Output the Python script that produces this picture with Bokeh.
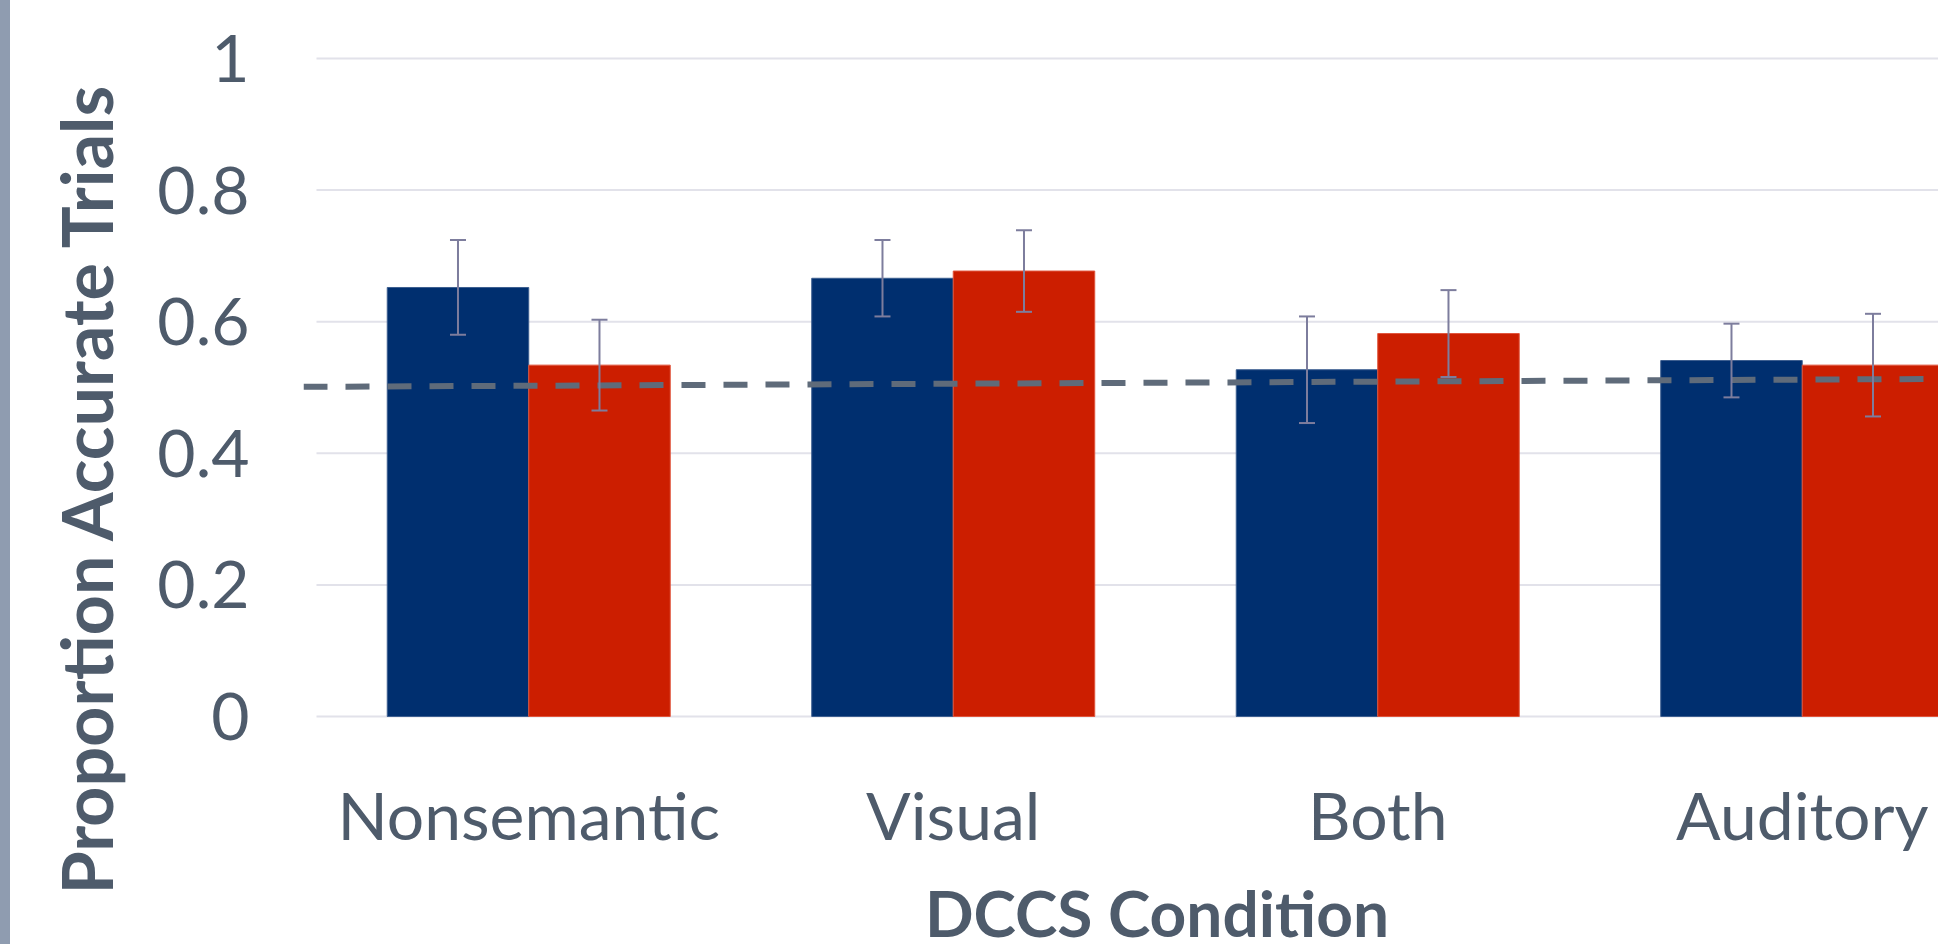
import numpy as np
from bokeh.plotting import figure
from bokeh.models import (Range1d, FixedTicker, Whisker, ColumnDataSource,
                          TeeHead, Div, Title)
from bokeh.core.properties import value
from bokeh.layouts import row
from bokeh.transform import dodge
from bokeh.embed import file_html
from bokeh.resources import INLINE

# ---- data -------------------------------------------------------------
conditions = ["Nonsemantic", "Visual", "Both", "Auditory"]
series1_mean = [0.652, 0.666, 0.527, 0.541]
series1_err = [0.072, 0.058, 0.081, 0.056]
series2_mean = [0.534, 0.677, 0.582, 0.534]
series2_err = [0.069, 0.062, 0.066, 0.078]
chance_level = [0.501, 0.513]          # dashed reference line (start, end)
y_ticks = [0, 0.2, 0.4, 0.6, 0.8, 1]
y_tick_labels = ["0", "0.2", "0.4", "0.6", "0.8", "1"]

# ---- styling ----------------------------------------------------------
TEXT = "#4e5b6b"
BLUE = "#002f6f"
RED = "#cc1e00"
ERR = "#7d7d9d"
GRID = "#e2e2ea"
DASH = "#5f6b7a"
FONT = "Lato"

W, H = 1928, 944
BAR_W = 1 / 3
x_start, x_end = -0.5306, 3.321
y_start, y_end = -0.3465, 1.08815     # lower part holds the category captions
CAT_LABEL_Y = -0.1495                 # anchor of category captions
XTITLE_Y = -0.2985                    # anchor of the x-axis title
XTITLE_X = 1.48

idx = np.arange(len(conditions))
src = ColumnDataSource(dict(
    x=idx,
    m1=series1_mean, lo1=np.array(series1_mean) - np.array(series1_err),
    hi1=np.array(series1_mean) + np.array(series1_err),
    m2=series2_mean, lo2=np.array(series2_mean) - np.array(series2_err),
    hi2=np.array(series2_mean) + np.array(series2_err),
))

p = figure(width=W, height=H,
           x_range=Range1d(x_start, x_end), y_range=Range1d(y_start, y_end),
           output_backend="svg", toolbar_location=None, x_axis_location=None,
           min_border_left=293, min_border_right=0,
           min_border_top=0, min_border_bottom=0)
p.title.visible = False
p.outline_line_color = None
p.xgrid.visible = False
p.ygrid.visible = False
p.background_fill_color = "white"
p.border_fill_color = "white"

# horizontal gridlines across the category area
p.segment(x0=-0.5, x1=x_end, y0=y_ticks, y1=y_ticks,
          line_color=GRID, line_width=2)

# bars
p.vbar(x=dodge("x", -BAR_W / 2), top="m1", width=BAR_W, bottom=0, source=src,
       fill_color=BLUE, line_color="#3d5f90", line_width=1)
p.vbar(x=dodge("x", BAR_W / 2), top="m2", width=BAR_W, bottom=0, source=src,
       fill_color=RED, line_color="#e0553c", line_width=1)

# dashed chance line
p.line(x=[x_start, x_end], y=chance_level, line_color=DASH, line_width=6,
       line_dash="24 18")

# error bars, drawn above the bars
for base, lo, hi in ((dodge("x", -BAR_W / 2), "lo1", "hi1"),
                     (dodge("x", BAR_W / 2), "lo2", "hi2")):
    w = Whisker(source=src, base=base, lower=lo, upper=hi, level="annotation",
                line_color=ERR, line_width=2,
                upper_head=TeeHead(size=16, line_color=ERR, line_width=2),
                lower_head=TeeHead(size=16, line_color=ERR, line_width=2))
    p.add_layout(w)

# category captions under each group
cat_src = ColumnDataSource(dict(x=idx, y=[CAT_LABEL_Y] * len(conditions),
                                text=conditions))
p.text(x="x", y="y", text="text", source=cat_src, text_align="center",
       text_baseline="alphabetic", text_font=value(FONT),
       text_font_size=value("66px"), text_color=TEXT)

# x-axis title
p.text(x=[XTITLE_X], y=[XTITLE_Y], text=["DCCS Condition"], text_align="center",
       text_baseline="alphabetic", text_font=value(FONT),
       text_font_style="bold", text_font_size=value("64px"), text_color=TEXT)

# y axis
yax = p.yaxis[0]
yax.ticker = FixedTicker(ticks=y_ticks)
yax.major_label_overrides = dict(zip(y_ticks, y_tick_labels))
yax.axis_line_color = None
yax.major_tick_line_color = None
yax.minor_tick_line_color = None
yax.major_tick_out = 0
yax.major_label_text_color = TEXT
yax.major_label_text_font = FONT
yax.major_label_text_font_size = "66px"
yax.major_label_standoff = 54

# y-axis title
p.add_layout(Title(text="Proportion Accurate Trials", align="left", offset=50,
                   standoff=54, vertical_align="bottom", text_font=FONT,
                   text_font_style="bold", text_font_size="70px",
                   text_color=TEXT), "left")

strip = Div(width=10, height=H, margin=0,
            styles={"background-color": "#8f9cb0"})
p.margin = 0
layout = row(strip, p, spacing=0)

open("out.html", "w").write(file_html(layout, INLINE))
